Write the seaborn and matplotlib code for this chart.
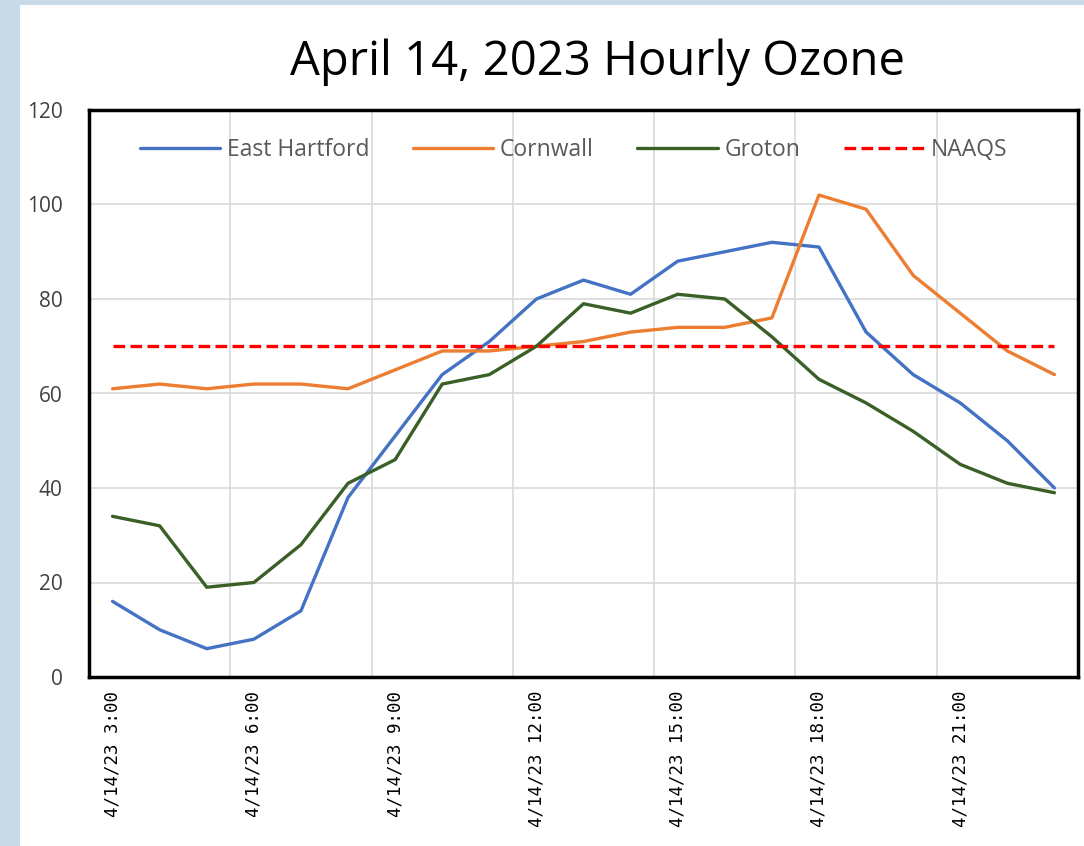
import matplotlib
matplotlib.use("Agg")
import matplotlib.pyplot as plt
from matplotlib.patches import Rectangle
from matplotlib.ticker import FixedLocator
import seaborn as sns
import pandas as pd

hours = list(range(3, 24))
east_hartford = [16, 10, 6, 8, 14, 38, 51, 64, 71, 80, 84, 81, 88, 90, 92, 91, 73, 64, 58, 50, 40]
cornwall = [61, 62, 61, 62, 62, 61, 65, 69, 69, 70, 71, 73, 74, 74, 76, 102, 99, 85, 77, 69, 64]
groton = [34, 32, 19, 20, 28, 41, 46, 62, 64, 70, 79, 77, 81, 80, 72, 63, 58, 52, 45, 41, 39]
naaqs = [70] * len(hours)
tick_hours = [3, 6, 9, 12, 15, 18, 21]
tick_labels = [f"4/14/23 {h}:00" for h in tick_hours]

df = pd.DataFrame({
    "hour": hours,
    "East Hartford": east_hartford,
    "Cornwall": cornwall,
    "Groton": groton,
    "NAAQS": naaqs,
})
long_df = df.melt(id_vars="hour", var_name="site", value_name="ozone")

sns.set_style("white")
plt.rcParams["font.family"] = ["Open Sans", "DejaVu Sans"]

fig = plt.figure(figsize=(10.84, 8.46), dpi=100)
fig.patch.set_facecolor("#C9DBE9")
# white chart area of the screenshot, behind everything else
bg = Rectangle((20 / 1084, 0), 1 - 20 / 1084, 1 - 5 / 846,
               transform=fig.transFigure, facecolor="white", edgecolor="none")
bg.set_zorder(-10)
fig.add_artist(bg)

ax = fig.add_axes([89 / 1084, 1 - 677 / 846, (1078 - 89) / 1084, (677 - 110) / 846])
ax.set_zorder(1)

palette = {"East Hartford": "#4472C4", "Cornwall": "#ED7D31",
           "Groton": "#3A5F27", "NAAQS": "#FF0000"}
sns.lineplot(data=long_df, x="hour", y="ozone", hue="site", style="site",
             palette=palette, dashes={"East Hartford": "", "Cornwall": "",
                                      "Groton": "", "NAAQS": (3.5, 1.6)},
             linewidth=2.4, ax=ax, legend=True)

ax.set_xlim(2.5, 23.5)
ax.set_ylim(0, 120)
ax.set_yticks(range(0, 121, 20))
ax.set_xticks(tick_hours)
ax.set_xticklabels(tick_labels, rotation=90, family="DejaVu Sans Mono",
                   fontsize=12.5, color="black")
ax.xaxis.set_minor_locator(FixedLocator([5.5, 8.5, 11.5, 14.5, 17.5, 20.5]))
ax.tick_params(axis="x", which="both", length=0, pad=10)
ax.tick_params(axis="y", length=0, pad=19, labelsize=15, labelcolor="#404040")
ax.grid(axis="y", which="major", color="#D9D9D9", linewidth=1.2)
ax.grid(axis="x", which="minor", color="#D9D9D9", linewidth=1.2)
ax.set_axisbelow(True)
ax.set_xlabel("")
ax.set_ylabel("")
for spine in ax.spines.values():
    spine.set_visible(True)
    spine.set_color("black")
    spine.set_linewidth(2.5)

handles, labels = ax.get_legend_handles_labels()
leg = ax.legend(handles, labels, loc="center", bbox_to_anchor=(0.49, 0.929),
                ncol=4, frameon=False, fontsize=16.5, handlelength=3.5,
                handletextpad=0.3, columnspacing=1.9)
for t in leg.get_texts():
    t.set_color("#595959")

fig.text(598 / 1084, 1 - 62 / 846, "April 14, 2023 Hourly Ozone",
         ha="center", va="center", fontsize=34, color="black")

fig.savefig("out.png", dpi=100)
